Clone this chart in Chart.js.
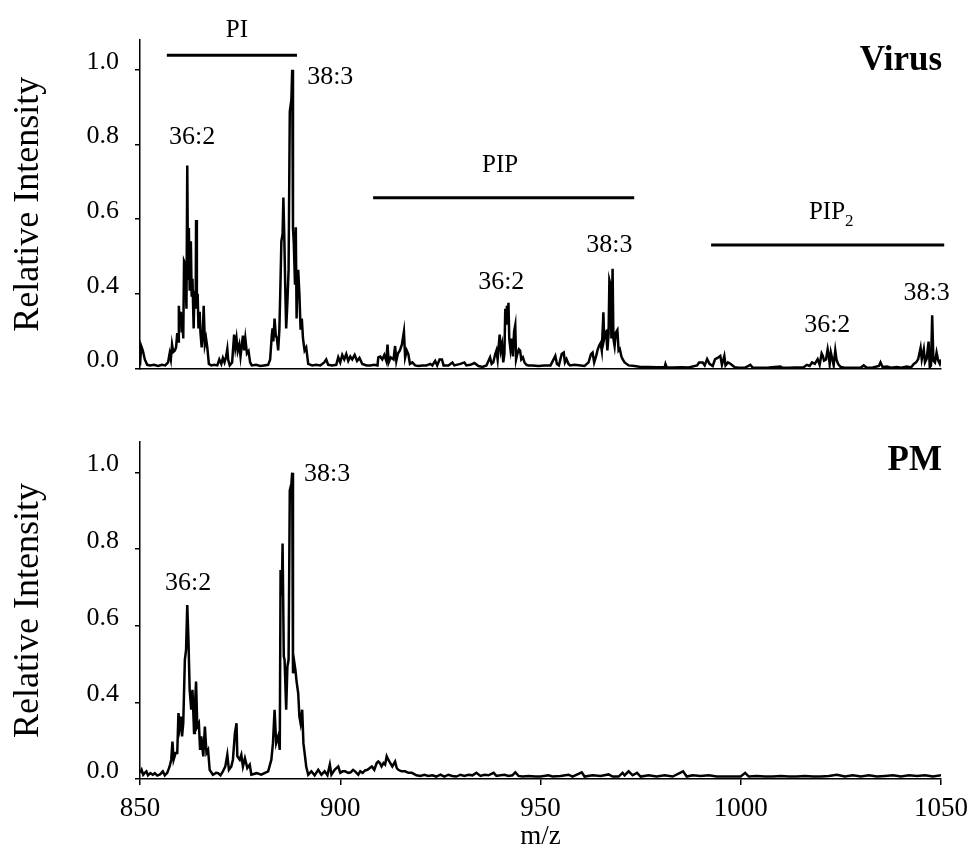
<!DOCTYPE html>
<html>
<head>
<meta charset="utf-8">
<title>Virus / PM phosphoinositide spectra</title>
<script src="https://cdn.jsdelivr.net/npm/chart.js@4.4.0/dist/chart.umd.min.js"></script>
<style>
  body { margin: 0; background: #fff; }
  #wrap { position: relative; width: 968px; height: 853px; }
  canvas { position: absolute; left: 0; }
  #virusCanvas { top: 0; }
  #pmCanvas { top: 400px; }
</style>
</head>
<body>
<div id="wrap">
  <canvas id="virusCanvas" width="968" height="400"></canvas>
  <canvas id="pmCanvas" width="968" height="453"></canvas>
</div>
<script>
// axis ticks
var xTicks = [850, 900, 950, 1000, 1050];
var yTickValues = [0, 0.25, 0.5, 0.75, 1.0];
var yTickLabels = ["0.0", "0.4", "0.6", "0.8", "1.0"];

// virus spectrum  [m/z, relative intensity]
var virusSpectrum = [
  [850.0, 0.01], [850.3, 0.075], [850.7, 0.06], [851.2, 0.03], [851.8, 0.012], [852.5, 0.01],
  [853.5, 0.012], [854.5, 0.008], [855.5, 0.012], [856.3, 0.01], [857.0, 0.02], [857.4, 0.05],
  [857.7, 0.03], [858.0, 0.08], [858.3, 0.055], [858.7, 0.06], [859.0, 0.07], [859.3, 0.118],
  [859.5, 0.09], [859.7, 0.21], [859.9, 0.16], [860.2, 0.19], [860.4, 0.12], [860.6, 0.17],
  [860.8, 0.10], [861.0, 0.36], [861.3, 0.35], [861.6, 0.2], [861.8, 0.68], [862.0, 0.3],
  [862.2, 0.47], [862.4, 0.26], [862.7, 0.426], [862.9, 0.24], [863.1, 0.30], [863.4, 0.134],
  [863.6, 0.26], [863.9, 0.2], [864.0, 0.497], [864.2, 0.22], [864.4, 0.25], [864.6, 0.134],
  [864.9, 0.19], [865.1, 0.12], [865.4, 0.07], [865.7, 0.12], [865.9, 0.21], [866.2, 0.08],
  [866.5, 0.10], [866.8, 0.07], [867.2, 0.015], [867.8, 0.01], [868.5, 0.012], [869.3, 0.01],
  [869.8, 0.03], [870.3, 0.015], [870.7, 0.035], [871.1, 0.02], [871.5, 0.04], [871.8, 0.065],
  [872.0, 0.03], [872.4, 0.01], [873.0, 0.02], [873.5, 0.113], [873.8, 0.07], [874.1, 0.1],
  [874.4, 0.058], [874.8, 0.08], [875.1, 0.04], [875.7, 0.11], [876.0, 0.06], [876.3, 0.10],
  [876.7, 0.05], [877.1, 0.058], [877.5, 0.02], [877.9, 0.01], [879.0, 0.012], [880.0, 0.008],
  [881.0, 0.01], [882.0, 0.012], [882.5, 0.03], [882.9, 0.11], [883.1, 0.134], [883.3, 0.09],
  [883.6, 0.167], [883.9, 0.11], [884.2, 0.10], [884.5, 0.06], [884.8, 0.13], [885.1, 0.30],
  [885.3, 0.426], [885.6, 0.45], [885.8, 0.572], [886.0, 0.46], [886.3, 0.25], [886.5, 0.134],
  [886.8, 0.22], [887.1, 0.33], [887.4, 0.86], [887.6, 0.88], [887.8, 0.90], [888.0, 1.0],
  [888.2, 0.47], [888.4, 0.42], [888.7, 0.28], [888.9, 0.473], [889.1, 0.167], [889.3, 0.30],
  [889.5, 0.33], [889.8, 0.25], [890.1, 0.13], [890.4, 0.167], [890.7, 0.10], [891.1, 0.06],
  [891.5, 0.07], [892.0, 0.015], [893.0, 0.01], [894.0, 0.012], [895.0, 0.01], [896.0, 0.02],
  [896.5, 0.03], [897.0, 0.012], [898.0, 0.01], [899.0, 0.012], [899.5, 0.037], [900.0, 0.02],
  [900.5, 0.045], [901.0, 0.03], [901.5, 0.048], [902.0, 0.025], [902.5, 0.04], [903.0, 0.03],
  [903.6, 0.045], [904.2, 0.025], [904.8, 0.035], [905.5, 0.015], [906.6, 0.01], [907.5, 0.01],
  [908.5, 0.012], [909.3, 0.01], [909.5, 0.037], [910.0, 0.04], [910.5, 0.03], [911.0, 0.045],
  [911.5, 0.025], [911.8, 0.08], [912.1, 0.02], [912.6, 0.037], [913.3, 0.03], [913.7, 0.075],
  [914.0, 0.025], [914.4, 0.05], [914.9, 0.06], [915.4, 0.08], [915.9, 0.123], [916.2, 0.037],
  [916.6, 0.06], [917.0, 0.048], [917.4, 0.015], [918.0, 0.02], [918.7, 0.01], [919.5, 0.008],
  [920.5, 0.01], [921.5, 0.01], [922.5, 0.015], [923.0, 0.01], [923.7, 0.025], [924.2, 0.01],
  [924.8, 0.03], [925.4, 0.03], [925.8, 0.01], [927.0, 0.01], [928.0, 0.02], [928.5, 0.01],
  [930.0, 0.015], [931.0, 0.02], [931.5, 0.01], [932.5, 0.012], [933.5, 0.018], [934.5, 0.008],
  [935.5, 0.005], [936.5, 0.01], [937.4, 0.037], [937.8, 0.015], [938.2, 0.02], [938.7, 0.048],
  [939.0, 0.06], [939.3, 0.03], [939.8, 0.113], [940.1, 0.06], [940.4, 0.08], [940.7, 0.02],
  [941.0, 0.05], [941.2, 0.2], [941.4, 0.15], [941.6, 0.21], [941.8, 0.17], [942.0, 0.22],
  [942.2, 0.10], [942.5, 0.064], [942.8, 0.1], [943.1, 0.04], [943.4, 0.123], [943.7, 0.145],
  [943.9, 0.03], [944.2, 0.048], [944.6, 0.064], [944.9, 0.06], [945.2, 0.03], [945.6, 0.037],
  [946.0, 0.02], [946.5, 0.012], [947.0, 0.01], [948.0, 0.01], [949.5, 0.008], [951.0, 0.01],
  [952.5, 0.01], [953.3, 0.031], [953.7, 0.042], [954.1, 0.015], [954.6, 0.01], [955.3, 0.048],
  [955.8, 0.053], [956.1, 0.02], [956.5, 0.031], [957.0, 0.015], [957.4, 0.01], [958.5, 0.012],
  [960.0, 0.01], [961.0, 0.008], [962.0, 0.02], [962.6, 0.048], [963.0, 0.053], [963.4, 0.02],
  [963.9, 0.042], [964.3, 0.064], [964.6, 0.075], [965.0, 0.085], [965.3, 0.06], [965.7, 0.188],
  [965.9, 0.10], [966.2, 0.12], [966.4, 0.123], [966.7, 0.06], [967.0, 0.115], [967.2, 0.296],
  [967.5, 0.28], [967.7, 0.10], [968.0, 0.334], [968.2, 0.10], [968.5, 0.075], [968.8, 0.12],
  [969.2, 0.129], [969.5, 0.06], [969.8, 0.065], [970.2, 0.04], [970.5, 0.031], [971.0, 0.02],
  [972.0, 0.01], [973.5, 0.008], [975.0, 0.005], [977.0, 0.005], [979.0, 0.004], [981.0, 0.004],
  [981.2, 0.015], [981.5, 0.004], [983.0, 0.003], [985.0, 0.004], [987.0, 0.003], [989.1, 0.01],
  [989.6, 0.02], [990.5, 0.02], [991.0, 0.01], [991.6, 0.031], [992.2, 0.015], [993.0, 0.008],
  [993.6, 0.031], [994.2, 0.035], [994.9, 0.042], [995.3, 0.012], [995.9, 0.042], [996.2, 0.01],
  [996.8, 0.02], [997.5, 0.015], [998.5, 0.004], [999.5, 0.002], [1001.0, 0.002], [1002.4, 0.012],
  [1003.0, 0.002], [1005.0, 0.002], [1007.0, 0.003], [1009.9, 0.006], [1010.5, 0.002], [1012.0, 0.002],
  [1013.5, 0.003], [1015.7, 0.004], [1016.5, 0.012], [1017.2, 0.008], [1017.8, 0.02], [1018.5, 0.015],
  [1019.2, 0.031], [1019.7, 0.012], [1020.2, 0.05], [1020.5, 0.042], [1020.8, 0.026], [1021.3, 0.03],
  [1021.7, 0.064], [1022.0, 0.04], [1022.2, 0.015], [1022.5, 0.053], [1022.8, 0.035], [1023.2, 0.01],
  [1023.6, 0.06], [1023.9, 0.03], [1024.3, 0.015], [1024.9, 0.005], [1026.0, 0.002], [1028.0, 0.002],
  [1030.0, 0.003], [1030.7, 0.01], [1031.5, 0.002], [1033.0, 0.003], [1034.5, 0.008], [1034.9, 0.02],
  [1035.4, 0.005], [1036.5, 0.006], [1037.5, 0.002], [1039.0, 0.005], [1040.0, 0.002], [1041.5, 0.006],
  [1042.5, 0.003], [1043.2, 0.015], [1043.8, 0.02], [1044.3, 0.031], [1044.9, 0.069], [1045.2, 0.03],
  [1045.7, 0.064], [1046.0, 0.02], [1046.4, 0.031], [1046.9, 0.09], [1047.2, 0.003], [1047.5, 0.01],
  [1047.8, 0.178], [1048.1, 0.026], [1048.5, 0.02], [1048.9, 0.053], [1049.3, 0.026], [1049.7, 0.015],
  [1050.0, 0.03]
];

// plasma membrane spectrum  [m/z, relative intensity]
var pmSpectrum = [
  [850.0, 0.02], [850.4, 0.03], [850.8, 0.014], [851.2, 0.02], [851.6, 0.025], [852.0, 0.012],
  [852.6, 0.019], [853.2, 0.014], [853.7, 0.019], [854.3, 0.011], [855.0, 0.015], [855.7, 0.025],
  [856.2, 0.012], [856.8, 0.02], [857.4, 0.041], [857.8, 0.063], [858.1, 0.122], [858.4, 0.063],
  [858.9, 0.085], [859.3, 0.085], [859.6, 0.215], [859.9, 0.171], [860.2, 0.204], [860.5, 0.139],
  [860.8, 0.182], [861.2, 0.389], [861.5, 0.421], [861.8, 0.568], [862.1, 0.454], [862.4, 0.291],
  [862.8, 0.226], [863.1, 0.291], [863.5, 0.15], [863.7, 0.236], [864.0, 0.318], [864.3, 0.171],
  [864.7, 0.182], [865.0, 0.095], [865.3, 0.139], [865.8, 0.074], [866.2, 0.171], [866.6, 0.085],
  [867.0, 0.095], [867.4, 0.03], [868.2, 0.014], [869.0, 0.02], [869.5, 0.019], [870.1, 0.012],
  [870.7, 0.025], [871.3, 0.041], [871.8, 0.079], [872.2, 0.03], [872.8, 0.041], [873.2, 0.063],
  [873.7, 0.15], [874.1, 0.182], [874.3, 0.074], [874.9, 0.063], [875.3, 0.079], [875.7, 0.041],
  [876.2, 0.068], [876.8, 0.036], [877.4, 0.047], [877.8, 0.014], [879.1, 0.019], [880.3, 0.014],
  [881.2, 0.02], [882.0, 0.025], [882.8, 0.063], [883.2, 0.117], [883.6, 0.226], [884.0, 0.117],
  [884.5, 0.139], [884.9, 0.095], [885.1, 0.682], [885.4, 0.6], [885.6, 0.769], [885.9, 0.4],
  [886.1, 0.389], [886.5, 0.226], [886.8, 0.367], [887.1, 0.389], [887.4, 0.942], [887.8, 0.964],
  [888.0, 1.0], [888.2, 0.345], [888.5, 0.383], [888.8, 0.356], [889.1, 0.318], [889.5, 0.28],
  [889.8, 0.204], [890.1, 0.182], [890.5, 0.226], [890.8, 0.117], [891.1, 0.085], [891.5, 0.041],
  [892.0, 0.014], [892.8, 0.025], [893.6, 0.012], [894.5, 0.03], [895.3, 0.014], [896.1, 0.025],
  [896.8, 0.012], [897.4, 0.047], [897.8, 0.014], [898.6, 0.03], [899.5, 0.041], [900.0, 0.02],
  [900.6, 0.025], [901.2, 0.025], [902.0, 0.02], [902.6, 0.022], [903.2, 0.03], [903.7, 0.025],
  [904.5, 0.014], [905.0, 0.025], [905.6, 0.02], [906.2, 0.028], [906.8, 0.03], [907.3, 0.035],
  [907.9, 0.041], [908.5, 0.03], [909.1, 0.052], [909.5, 0.057], [909.9, 0.052], [910.3, 0.041],
  [910.8, 0.052], [911.2, 0.047], [911.6, 0.074], [912.0, 0.063], [912.5, 0.052], [913.0, 0.041],
  [913.7, 0.057], [914.1, 0.036], [914.5, 0.03], [915.3, 0.025], [916.2, 0.025], [917.0, 0.02],
  [917.9, 0.02], [919.0, 0.012], [920.0, 0.01], [921.0, 0.014], [922.0, 0.01], [923.0, 0.012],
  [924.0, 0.008], [925.0, 0.014], [926.0, 0.008], [927.0, 0.014], [928.0, 0.01], [929.0, 0.008],
  [930.0, 0.014], [931.0, 0.01], [932.0, 0.014], [933.0, 0.012], [934.0, 0.02], [935.0, 0.01],
  [936.0, 0.014], [937.0, 0.012], [938.3, 0.02], [939.0, 0.01], [940.0, 0.012], [941.0, 0.014],
  [942.0, 0.01], [943.0, 0.012], [943.7, 0.022], [944.5, 0.01], [945.5, 0.008], [947.0, 0.01],
  [948.7, 0.008], [950.0, 0.008], [952.0, 0.012], [953.0, 0.008], [955.0, 0.01], [957.0, 0.014],
  [958.0, 0.008], [960.3, 0.022], [961.0, 0.008], [963.0, 0.012], [965.0, 0.01], [967.0, 0.015],
  [968.0, 0.008], [969.5, 0.008], [970.5, 0.02], [971.0, 0.012], [972.0, 0.025], [973.0, 0.012],
  [974.1, 0.02], [975.0, 0.008], [977.0, 0.012], [979.0, 0.008], [981.0, 0.012], [983.0, 0.008],
  [985.6, 0.025], [986.5, 0.008], [988.0, 0.012], [990.0, 0.01], [992.0, 0.012], [994.0, 0.008],
  [996.0, 0.008], [998.0, 0.008], [1000.0, 0.008], [1001.1, 0.02], [1002.0, 0.008], [1004.0, 0.01],
  [1006.0, 0.008], [1008.0, 0.008], [1010.0, 0.01], [1012.0, 0.008], [1014.0, 0.008], [1016.0, 0.01],
  [1018.0, 0.008], [1020.0, 0.008], [1022.0, 0.01], [1024.0, 0.014], [1026.0, 0.008], [1028.0, 0.012],
  [1030.0, 0.008], [1032.0, 0.012], [1034.0, 0.008], [1036.0, 0.01], [1038.0, 0.012], [1040.0, 0.008],
  [1042.0, 0.012], [1044.0, 0.01], [1046.0, 0.012], [1048.0, 0.008], [1050.0, 0.012]
];

// peak labels (species) and lipid class brackets
var virusPeakLabels = [
  { text: "36:2", mz: 863.0, y: 0.773 },
  { text: "38:3", mz: 897.5, y: 0.974 },
  { text: "36:2", mz: 940.2, y: 0.289 },
  { text: "38:3", mz: 967.2, y: 0.412 },
  { text: "36:2", mz: 1021.6, y: 0.146 },
  { text: "38:3", mz: 1046.4, y: 0.253 }
];
var virusGroups = [
  { text: "PI", mz: 874.2, textY: 1.133, from: 856.7, to: 889.2, y: 1.049 },
  { text: "PIP", mz: 939.9, textY: 0.679, from: 908.2, to: 973.4, y: 0.572 },
  { text: "PIP", sub: "2", mz: 1022.6, textY: 0.523, from: 992.6, to: 1050.8, y: 0.413 }
];
var pmPeakLabels = [
  { text: "36:2", mz: 862.0, y: 0.639 },
  { text: "38:3", mz: 896.7, y: 0.994 }
];

var serif = "'Liberation Serif', 'Times New Roman', Times, serif";
Chart.defaults.font.family = serif;
Chart.defaults.color = "#000";

var makeAnnotate = function (panel) {
    return {
        id: "annotate",
        afterDatasetsDraw: function (chart) {
            var ctx = chart.ctx;
            var xs = chart.scales.x;
            var ys = chart.scales.y;
            ctx.save();
            ctx.fillStyle = "#000";
            ctx.strokeStyle = "#000";
            ctx.textAlign = "center";
            ctx.textBaseline = "middle";

            ctx.font = "26px " + serif;
            panel.peaks.forEach(function (p) {
                ctx.fillText(p.text, xs.getPixelForValue(p.mz), ys.getPixelForValue(p.y));
            });

            panel.groups.forEach(function (g) {
                var ly = ys.getPixelForValue(g.y);
                ctx.lineWidth = 3;
                ctx.beginPath();
                ctx.moveTo(xs.getPixelForValue(g.from), ly);
                ctx.lineTo(xs.getPixelForValue(g.to), ly);
                ctx.stroke();

                var tx = xs.getPixelForValue(g.mz);
                var ty = ys.getPixelForValue(g.textY);
                ctx.font = "25px " + serif;
                if (g.sub) {
                    var w = ctx.measureText(g.text).width;
                    ctx.font = "17px " + serif;
                    var ws = ctx.measureText(g.sub).width;
                    var x0 = tx - (w + ws) / 2;
                    ctx.textAlign = "left";
                    ctx.font = "25px " + serif;
                    ctx.fillText(g.text, x0, ty);
                    ctx.font = "17px " + serif;
                    ctx.fillText(g.sub, x0 + w, ty + 9);
                    ctx.textAlign = "center";
                } else {
                    ctx.fillText(g.text, tx, ty);
                }
            });

            // sample name, top right
            ctx.font = "bold 35px " + serif;
            ctx.textAlign = "right";
            ctx.textBaseline = "alphabetic";
            ctx.fillText(panel.name, chart.chartArea.right + 1, ys.getPixelForValue(panel.nameY));
            ctx.restore();
        }
    };
};

var drawPanel = function (canvasId, spectrum, panel) {
    var points = spectrum.map(function (p) { return { x: p[0], y: p[1] }; });

    return new Chart(document.getElementById(canvasId), {
        type: "line",
        data: {
            datasets: [{
                data: points,
                borderColor: "#000",
                borderWidth: 2.5,
                borderJoinStyle: "miter",
                pointRadius: 0,
                tension: 0,
                fill: false
            }]
        },
        options: {
            responsive: false,
            animation: false,
            events: [],
            layout: { padding: panel.padding },
            plugins: {
                legend: { display: false },
                tooltip: { enabled: false }
            },
            scales: {
                x: {
                    type: "linear",
                    min: 850,
                    max: 1050,
                    afterBuildTicks: function (scale) {
                        scale.ticks = xTicks.map(function (v) { return { value: v }; });
                    },
                    afterFit: function (scale) {
                        scale.height = panel.xHeight;
                        // keep both panels the same width, the end labels fit in the margins
                        scale.paddingLeft = 0;
                        scale.paddingRight = 0;
                    },
                    ticks: {
                        display: panel.showX,
                        font: { size: 27 },
                        color: "#000",
                        padding: 8,
                        maxRotation: 0,
                        callback: function (v) { return String(v); }
                    },
                    grid: { drawOnChartArea: false, drawTicks: panel.showX, tickLength: 6, color: "#000", lineWidth: 1.5 },
                    border: { color: "#000", width: 1.5 },
                    title: { display: panel.showX, text: "m/z", font: { size: 27 }, color: "#000", padding: 0 }
                },
                y: {
                    min: 0,
                    max: 1.1,
                    afterBuildTicks: function (scale) {
                        scale.ticks = yTickValues.map(function (v) { return { value: v }; });
                    },
                    afterFit: function (scale) { scale.width = 140; },
                    ticks: {
                        font: { size: 26 },
                        color: "#000",
                        padding: 16,
                        labelOffset: -8,
                        callback: function (v) { return yTickLabels[yTickValues.indexOf(v)]; }
                    },
                    grid: { drawOnChartArea: false, tickLength: 5, color: "#000", lineWidth: 1.5 },
                    border: { color: "#000", width: 1.5 },
                    title: { display: true, text: "Relative Intensity", font: { size: 36 }, color: "#000", padding: { top: 7, bottom: 0 } }
                }
            }
        },
        plugins: [makeAnnotate(panel)]
    });
};

drawPanel("virusCanvas", virusSpectrum, {
    name: "Virus",
    nameY: 1.0,
    peaks: virusPeakLabels,
    groups: virusGroups,
    showX: false,
    xHeight: 0,
    padding: { top: 40, right: 27, bottom: 22, left: 0 }
});

drawPanel("pmCanvas", pmSpectrum, {
    name: "PM",
    nameY: 1.01,
    peaks: pmPeakLabels,
    groups: [],
    showX: true,
    xHeight: 74,
    padding: { top: 42, right: 27, bottom: 0, left: 0 }
});
</script>
</body>
</html>
